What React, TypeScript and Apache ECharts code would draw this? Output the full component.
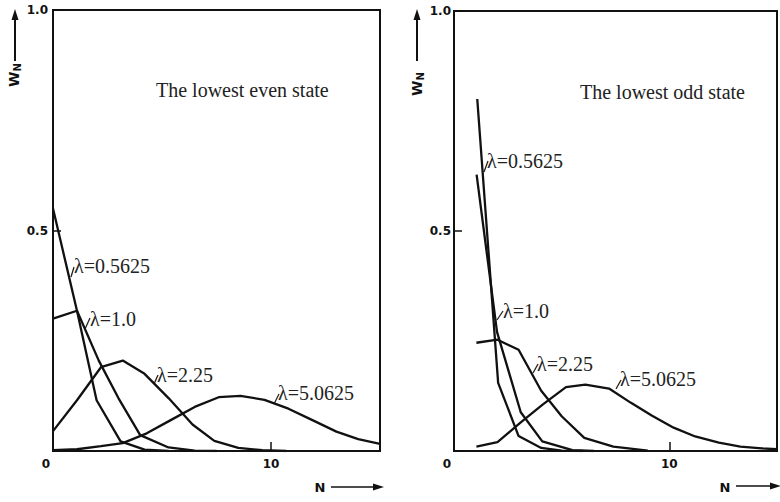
import React, { useEffect, useRef } from "react";
import * as echarts from "echarts";

// ---- data ----
// Left panel: the lowest even state
const evenL05625N = [0, 1.1, 2.0, 3.1, 4.2, 5.3];
const evenL05625W = [0.55, 0.318, 0.115, 0.022, 0.003, 0];
const evenL1N = [0, 1.1, 2.1, 3.0, 4.0, 5.3, 6.5, 7.5];
const evenL1W = [0.3, 0.318, 0.205, 0.12, 0.036, 0.008, 0.001, 0];
const evenL225N = [0, 1.1, 2.2, 3.2, 4.2, 5.3, 6.4, 7.4, 8.5, 9.6, 10.7];
const evenL225W = [0.045, 0.115, 0.19, 0.205, 0.175, 0.12, 0.06, 0.023, 0.007, 0.002, 0];
const evenL50625N = [0, 1.1, 2.2, 3.2, 4.3, 5.4, 6.5, 7.6, 8.6, 9.7, 10.8, 11.9, 13.0, 14.0, 15.0];
const evenL50625W = [0.002, 0.004, 0.011, 0.018, 0.04, 0.07, 0.1, 0.122, 0.125, 0.116, 0.096, 0.07, 0.044, 0.027, 0.016];

// Right panel: the lowest odd state
const oddL05625N = [1.08, 2.05, 3.0, 4.05, 5.0, 6.0];
const oddL05625W = [0.8, 0.155, 0.034, 0.007, 0.001, 0];
const oddL1N = [1.05, 2.0, 3.1, 4.1, 5.5, 6.5];
const oddL1W = [0.628, 0.27, 0.088, 0.022, 0.002, 0];
const oddL225N = [1.04, 2.02, 3.0, 4.05, 5.0, 6.05, 7.4, 9.0];
const oddL225W = [0.246, 0.253, 0.23, 0.137, 0.079, 0.03, 0.01, 0.001];
const oddL50625N = [1.04, 2.02, 3.1, 4.1, 5.2, 6.1, 7.2, 8.2, 9.2, 10.2, 11.2, 12.3, 13.3, 14.3, 15.0];
const oddL50625W = [0.01, 0.02, 0.065, 0.105, 0.145, 0.151, 0.142, 0.11, 0.08, 0.053, 0.033, 0.019, 0.01, 0.006, 0.004];

const xTicks = [0, 10];
const yTicks = [0.5, 1.0];
const X_MIN = 0;
const X_MAX = 15;

const zip = (xs: number[], ys: number[]) => xs.map((x, i) => [x, ys[i]]);

const serif = "'Liberation Serif', 'DejaVu Serif', serif";
const sans = "'DejaVu Sans', 'Liberation Sans', sans-serif";

export default function App() {
  const ref = useRef<HTMLDivElement>(null);
  useEffect(() => {
    if (!ref.current) return;
    const chart = echarts.init(ref.current, undefined, { renderer: "svg" });

    const line = (name: string, xs: number[], ys: number[], idx: number) => ({
      type: "line",
      name,
      data: zip(xs, ys),
      xAxisIndex: idx,
      yAxisIndex: idx,
      symbol: "none",
      lineStyle: { color: "#111", width: 2.3 },
      clip: true,
      silent: true,
    });

    const xAxis = (idx: number) => ({
      type: "value",
      gridIndex: idx,
      min: X_MIN,
      max: X_MAX,
      interval: 10,
      axisLine: { show: false },
      axisTick: { show: true, inside: true, length: 9, lineStyle: { color: "#111", width: 1.5 } },
      splitLine: { show: false },
      axisLabel: {
        margin: 7,
        color: "#111",
        fontFamily: sans,
        fontWeight: "bold",
        fontSize: 12,
        formatter: (v: number) => (xTicks.includes(v) ? (v === 0 ? "{z|0}" : String(v)) : ""),
        rich: { z: { padding: [0, 14, 0, 0], fontFamily: sans, fontWeight: "bold", fontSize: 12, color: "#111" } },
      },
    });

    const yAxis = (idx: number, margin: number) => ({
      type: "value",
      gridIndex: idx,
      min: 0,
      max: 1,
      interval: 0.5,
      axisLine: { show: false },
      axisTick: { show: true, inside: true, length: 8, lineStyle: { color: "#111", width: 1.5 } },
      splitLine: { show: false },
      axisLabel: {
        margin,
        color: "#111",
        fontFamily: sans,
        fontWeight: "bold",
        fontSize: 12,
        formatter: (v: number) => (yTicks.some((t) => Math.abs(t - v) < 1e-9) ? v.toFixed(1) : ""),
      },
    });

    const lam = (t: string, x: number, y: number) => ({
      type: "text",
      x,
      y,
      silent: true,
      style: { text: t, fill: "#222", font: `20px ${serif}`, textAlign: "left", textVerticalAlign: "middle" },
    });
    const hook = (x1: number, y1: number, x2: number, y2: number) => ({
      type: "line",
      silent: true,
      shape: { x1, y1, x2, y2 },
      style: { stroke: "#222", lineWidth: 1.3 },
    });
    const upArrow = (x: number, yTip: number, yEnd: number) => [
      { type: "line", silent: true, shape: { x1: x, y1: yTip + 8, x2: x, y2: yEnd }, style: { stroke: "#111", lineWidth: 2 } },
      { type: "polygon", silent: true, shape: { points: [[x, yTip], [x - 3.5, yTip + 11], [x + 3.5, yTip + 11]] }, style: { fill: "#111" } },
    ];
    const rightArrow = (x1: number, xTip: number, y: number) => [
      { type: "line", silent: true, shape: { x1, y1: y, x2: xTip - 8, y2: y }, style: { stroke: "#111", lineWidth: 1.5 } },
      { type: "polygon", silent: true, shape: { points: [[xTip, y], [xTip - 11, y - 3.5], [xTip - 11, y + 3.5]] }, style: { fill: "#111" } },
    ];
    const wn = (x: number, y: number) => ({
      type: "text",
      x,
      y,
      rotation: Math.PI / 2,
      silent: true,
      style: {
        text: "{w|W}{n|N}",
        textAlign: "center",
        textVerticalAlign: "middle",
        rich: {
          w: { font: `bold 14px ${sans}`, fill: "#111" },
          n: { font: `bold 10px ${sans}`, fill: "#111", padding: [6, 0, 0, 0] },
        },
      },
    });
    const nLabel = (x: number, y: number) => ({
      type: "text",
      x,
      y,
      silent: true,
      style: { text: "N", font: `bold 13px ${sans}`, fill: "#111", textAlign: "center", textVerticalAlign: "middle" },
    });

    chart.setOption({
      animation: false,
      backgroundColor: "#fff",
      grid: [
        { left: 53, top: 10, width: 327, height: 441, show: true, borderColor: "#111", borderWidth: 2, backgroundColor: "transparent" },
        { left: 454, top: 11, width: 328, height: 440, show: true, borderColor: "#111", borderWidth: 2, backgroundColor: "transparent" },
      ],
      xAxis: [xAxis(0), xAxis(1)],
      yAxis: [yAxis(0, 5), yAxis(1, 3)],
      series: [
        line("even λ=0.5625", evenL05625N, evenL05625W, 0),
        line("even λ=1.0", evenL1N, evenL1W, 0),
        line("even λ=2.25", evenL225N, evenL225W, 0),
        line("even λ=5.0625", evenL50625N, evenL50625W, 0),
        line("odd λ=0.5625", oddL05625N, oddL05625W, 1),
        line("odd λ=1.0", oddL1N, oddL1W, 1),
        line("odd λ=2.25", oddL225N, oddL225W, 1),
        line("odd λ=5.0625", oddL50625N, oddL50625W, 1),
      ],
      graphic: [
        {
          type: "text", x: 156, y: 90, silent: true,
          style: { text: "The lowest even state", fill: "#222", font: `20px ${serif}`, textAlign: "left", textVerticalAlign: "middle" },
        },
        {
          type: "text", x: 580, y: 92, silent: true,
          style: { text: "The lowest odd state", fill: "#222", font: `20px ${serif}`, textAlign: "left", textVerticalAlign: "middle" },
        },
        lam("λ=0.5625", 74, 266),
        hook(71, 277, 74, 267),
        lam("λ=1.0", 90, 319),
        hook(85, 329, 90, 318),
        lam("λ=2.25", 157, 375),
        hook(154, 384, 158, 375),
        lam("λ=5.0625", 278, 393),
        hook(274, 404, 279, 394),
        lam("λ=0.5625", 487, 161),
        hook(484, 172, 488, 161),
        lam("λ=1.0", 503, 311),
        hook(497, 320, 503, 311),
        lam("λ=2.25", 537, 364),
        hook(533, 373, 538, 364),
        lam("λ=5.0625", 620, 379),
        hook(616, 389, 621, 380),
        ...upArrow(15, 9, 61),
        wn(14, 75),
        ...upArrow(417, 9, 61),
        wn(417, 84),
        nLabel(320, 487),
        ...rightArrow(331, 384, 487),
        nLabel(725, 487),
        ...rightArrow(736, 781, 486),
      ],
    });
    return () => chart.dispose();
  }, []);
  return <div ref={ref} style={{ position: "fixed", left: 0, top: 0, width: 780, height: 502, background: "#fff" }} />;
}
